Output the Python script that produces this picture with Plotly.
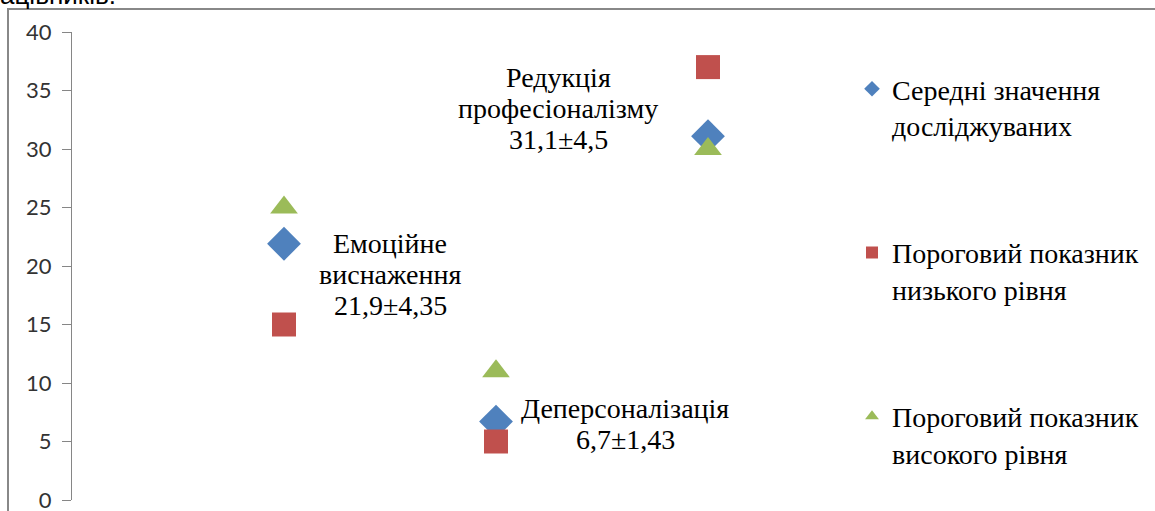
import plotly.graph_objects as go

# ---- data ----
category_lines = [["Емоційне", "виснаження"], ["Деперсоналізація"], ["Редукція", "професіоналізму"]]
x_pos = [1, 2, 3]
mean_values = [21.9, 6.7, 31.1]
mean_labels = ["21,9", "6,7", "31,1"]
sd_labels = ["4,35", "1,43", "4,5"]
low_threshold = [15, 5, 37]
high_threshold = [25, 11, 30]
series_names = ["Середні значення<br>досліджуваних",
                "Пороговий показник<br>низького рівня",
                "Пороговий показник<br>високого рівня"]
y_ticks = [0, 5, 10, 15, 20, 25, 30, 35, 40]

BLUE, RED, GREEN = "#4F81BD", "#C0504D", "#9BBB59"

# plot area geometry (pixels)
W, H = 1155, 511
L, R, T, B = 72, 814, 32, 500
pw, ph = R - L, B - T

fig = go.Figure()
fig.add_trace(go.Scatter(x=x_pos, y=mean_values, mode="markers", name=series_names[0],
                         legendgroup="a",
                         marker=dict(symbol="diamond", size=26, color=BLUE)))
fig.add_trace(go.Scatter(x=x_pos, y=low_threshold, mode="markers", name=series_names[1],
                         legendgroup="b",
                         marker=dict(symbol="square", size=24, color=RED)))
fig.add_trace(go.Scatter(x=x_pos, y=high_threshold, mode="markers", name=series_names[2],
                         legendgroup="c",
                         marker=dict(symbol="triangle-up", size=24, color=GREEN)))

# data labels for the mean series (one annotation per text line)
label_xshift = [106, 129, -150]
label_top_shift = [0, 13, 59]     # vertical offset of first line relative to the point (px, up)
LINE = 31
for xi, yi, lines, m, s, dx, dy0 in zip(x_pos, mean_values, category_lines, mean_labels,
                                        sd_labels, label_xshift, label_top_shift):
    all_lines = lines + [f"{m}±{s}"]
    for k, txt in enumerate(all_lines):
        fig.add_annotation(x=xi, y=yi, xref="x", yref="y", text=txt,
                           showarrow=False, xshift=dx, yshift=dy0 - k * LINE,
                           xanchor="center", yanchor="middle",
                           font=dict(family="Liberation Serif", size=28, color="#000000"))

# cut-off text at the top-left (from surrounding document)
fig.add_annotation(xref="paper", yref="paper", x=(-2 - L) / pw, y=(B - 12) / ph,
                   xanchor="left", yanchor="bottom", showarrow=False, text="ацівників.",
                   font=dict(family="Liberation Sans", size=26, color="#000000"))

# chart frame
fig.add_shape(type="rect", xref="paper", yref="paper",
              x0=(8 - L) / pw, x1=(W + 20 - L) / pw,
              y0=(B - (H + 20)) / ph, y1=(B - 9) / ph,
              line=dict(color="#888888", width=2), fillcolor="rgba(0,0,0,0)", layer="below")

fig.update_layout(
    width=W, height=H,
    margin=dict(l=L, r=W - R, t=T, b=H - B, pad=0, autoexpand=False),
    paper_bgcolor="white", plot_bgcolor="white",
    showlegend=True,
    legend=dict(x=(852 - L) / pw, y=(B - 64) / ph, xanchor="left", yanchor="top",
                traceorder="grouped", tracegroupgap=88, valign="top",
                itemsizing="constant",
                font=dict(family="Liberation Serif", size=28, color="#000000"),
                bgcolor="rgba(0,0,0,0)"),
    xaxis=dict(visible=False, range=[0, 3.5], fixedrange=True),
    yaxis=dict(range=[0, 40], tickvals=y_ticks, showgrid=False, zeroline=False,
               automargin=False, ticklabeloverflow="allow",
               showline=True, linecolor="#868686", linewidth=1,
               ticks="outside", ticklen=9, tickcolor="#868686", tickwidth=1,
               ticklabelstandoff=6,
               tickfont=dict(family="Lato", size=22, color="#333333")),
)

fig.write_html("out.html")
